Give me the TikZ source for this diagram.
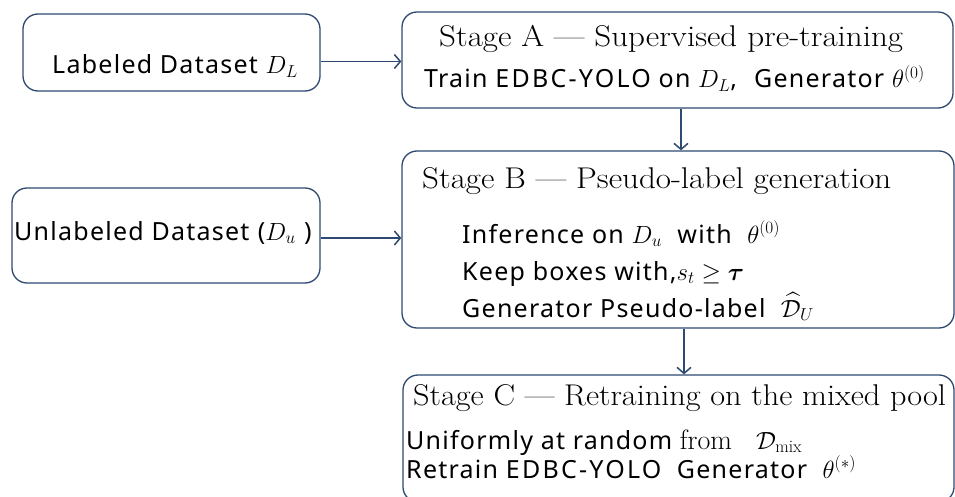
\documentclass[tikz,border=0pt]{standalone}
\usepackage{amsmath,amssymb}
\usepackage{graphicx}
\usepackage{fontspec}
\setsansfont{Noto Sans}
\usetikzlibrary{arrows.meta}
\definecolor{edgec}{HTML}{2E4A70}
\newcommand{\headtxt}[2][1.1]{\scalebox{#1}[1]{#2}}
\newcommand{\capsw}[1]{{\addfontfeatures{LetterSpace=9}#1}}
\begin{document}
\begin{tikzpicture}[x=1pt,y=-1pt,
  box/.style={draw=edgec,line width=1.3pt,rounded corners=15pt,inner sep=0pt},
  conn/.style={draw=edgec,line width=1.5pt,-{Straight Barb[length=6pt,width=14pt,line width=1.5pt]}},
  sanstxt/.style={font=\sffamily\addfontfeatures{LetterSpace=5}\fontsize{25}{29}\selectfont,anchor=base west,inner sep=0pt},
  seriftxt/.style={font=\rmfamily\fontsize{30}{34}\selectfont,anchor=base west,inner sep=0pt}
]
\useasboundingbox (0,0) rectangle (955,497);
\clip (0,0) rectangle (955,497);
% boxes
\node[box,minimum width=297pt,minimum height=77pt] (lab) at (171.5,52.5) {};
\node[box,minimum width=308pt,minimum height=95pt] (unl) at (166,235.5) {};
\node[box,minimum width=551pt,minimum height=96pt] (sa) at (677.5,60) {};
\node[box,minimum width=552pt,minimum height=177pt] (sb) at (678,239.5) {};
\node[box,minimum width=551pt,minimum height=127pt] (sc) at (678.5,438.5) {};
% texts
\node[sanstxt] (tlab) at (52,74) {Labeled Dataset $D_L$};
\node[sanstxt] (tunl) at (14,240) {Unlabeled Dataset\,\,($D_u$\,\,)};
\node[seriftxt] (ha) at (439,47) {\headtxt{Stage A --- Supervised pre-training}};
\node[sanstxt] (la) at (424,88) {Train \capsw{EDBC-YOLO} on $D_L$,\hspace{17pt}Generator\ $\theta^{(0)}$};
\node[seriftxt] (hb) at (422,189) {\headtxt{Stage B --- Pseudo-label generation}};
\node[sanstxt] (lb1) at (462,243) {Inference on $D_u$\ \ with\ \ $\theta^{(0)}$};
\node[sanstxt] (lb2) at (462,280) {Keep boxes with,$s_t \geq \boldsymbol{\tau}$};
\node[sanstxt] (lb3) at (462,317) {Generator Pseudo-label\ \ $\widehat{\mathcal{D}}_U$};
\node[seriftxt] (hc) at (413,405) {\headtxt[1.075]{Stage C --- Retraining on the mixed pool}};
\node[sanstxt] (lc1) at (406,449) {Uniformly at random {\rmfamily\fontsize{28}{30}\selectfont from}\hspace{24pt}$\mathcal{D}_{\mathrm{mix}}$};
\node[sanstxt] (lc2) at (406,478) {Retrain \capsw{EDBC-YOLO}\ \ Generator\ \ $\theta^{(*)}$};
% connectors
\coordinate (c1) at ([yshift=-9pt]lab.east);
\draw[conn] (c1) -- (c1 -| sa.west);
\coordinate (c2) at ([yshift=-2.5pt]unl.east);
\draw[conn] (c2) -- (c2 -| sb.west);
\coordinate (c3) at ([xshift=3.5pt]sa.south);
\draw[conn] (c3) -- (c3 |- sb.north);
\coordinate (c4) at ([xshift=6pt]sb.south);
\draw[conn] (c4) -- (c4 |- sc.north);
\end{tikzpicture}
\end{document}
